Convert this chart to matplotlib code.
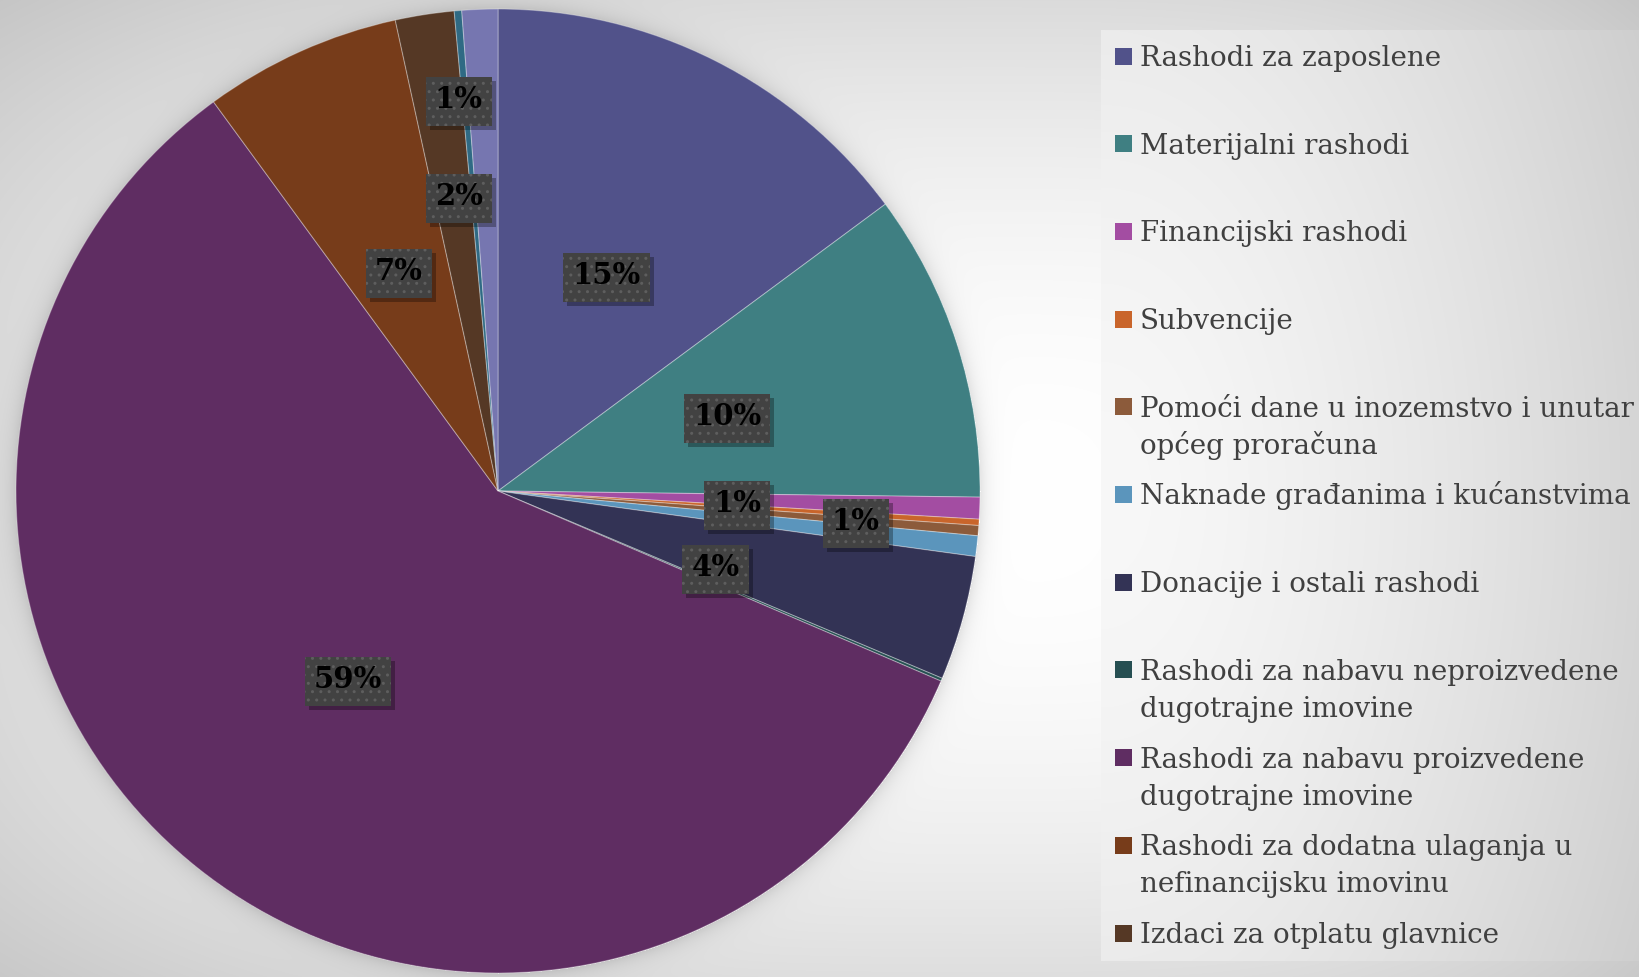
import numpy as np
import matplotlib
matplotlib.use("Agg")
import matplotlib.pyplot as plt
from matplotlib.patches import Rectangle

# ---------------- data ----------------
categories = [
    "Rashodi za zaposlene",
    "Materijalni rashodi",
    "Financijski rashodi",
    "Subvencije",
    "Pomoći dane u inozemstvo i unutar općeg proračuna",
    "Naknade građanima i kućanstvima",
    "Donacije i ostali rashodi",
    "Rashodi za nabavu neproizvedene dugotrajne imovine",
    "Rashodi za nabavu proizvedene dugotrajne imovine",
    "Rashodi za dodatna ulaganja u nefinancijsku imovinu",
    "Izdaci za otplatu glavnice",
    "Ostalo (12)",
    "Ostalo (13)",
]
shares = [14.86, 10.35, 0.73, 0.21, 0.34, 0.69, 4.18, 0.10, 58.52, 6.63, 1.97, 0.25, 1.20]

legend_lines = [
    ["Rashodi za zaposlene"],
    ["Materijalni rashodi"],
    ["Financijski rashodi"],
    ["Subvencije"],
    ["Pomoći dane u inozemstvo i unutar", "općeg proračuna"],
    ["Naknade građanima i kućanstvima"],
    ["Donacije i ostali rashodi"],
    ["Rashodi za nabavu neproizvedene", "dugotrajne imovine"],
    ["Rashodi za nabavu proizvedene", "dugotrajne imovine"],
    ["Rashodi za dodatna ulaganja u", "nefinancijsku imovinu"],
    ["Izdaci za otplatu glavnice"],
]

colors = ["#51528A", "#3F7F82", "#A34DA2", "#C9652B", "#8C5B3B", "#5B95BC",
          "#333355", "#264F52", "#5F2D62", "#773C1A", "#553825", "#2F6A84", "#7676B0"]

# label placement overrides: index -> (clockwise angle from 12 o'clock, radius fraction)
label_override = {2: (93.1, 0.497), 5: (94.8, 0.745), 6: (109.3, 0.478),
                  10: (352.4, 0.617), 12: (354.3, 0.817)}

# ---------------- figure ----------------
W, H = 1639, 977
fig = plt.figure(figsize=(W / 100, H / 100), dpi=100)
ax = fig.add_axes([0, 0, 1, 1])

CX, CY_IMG, R = 498, 491, 482
CY = H - CY_IMG

# background gradient image
yy, xx = np.mgrid[0:H, 0:W].astype(float)
dx = xx - 1000
u = np.where(dx < 0, -dx / 1000, dx / 640)
v = np.abs(yy - 500) / 500
t = (u ** 3 + v ** 3) ** (1 / 3)
g = 255 - 36 * t ** 2
dist = np.sqrt((xx - CX) ** 2 + (yy - CY_IMG) ** 2) - R
g -= np.where(dist > 0, 26 * np.exp(-np.clip(dist, 0, None) / 9), 0)
box = (xx >= 1101) & (yy >= 30) & (yy <= 960)
t2 = np.sqrt(((xx - 1101) / 540) ** 2 + ((yy - 495) / 900) ** 2)
g = np.where(box, 248 - 35 * t2 ** 1.5, g)
g = np.clip(g, 0, 255) / 255
img = np.dstack([g, g, g])
ax.imshow(img, extent=(0, W, 0, H), origin="upper", zorder=0, interpolation="bilinear")

wedges, _ = ax.pie(shares, colors=colors, startangle=90, counterclock=False,
                   center=(CX, CY), radius=R,
                   wedgeprops=dict(linewidth=0.8, edgecolor=(1, 1, 1, 0.3)))
for w in wedges:
    w.set_zorder(2)

ax.set_xlim(0, W)
ax.set_ylim(0, H)
ax.set_aspect("equal")
ax.axis("off")

# data labels
total = sum(shares)
label_texts = []
for i, w in enumerate(wedges):
    pct = round(shares[i] / total * 100)
    if pct < 1:
        continue
    if i in label_override:
        cw, rf = label_override[i]
        th = np.deg2rad(90 - cw)
    else:
        th = np.deg2rad((w.theta1 + w.theta2) / 2)
        rf = 0.5
    x = CX + rf * R * np.cos(th)
    y = CY + rf * R * np.sin(th)
    txt = ax.text(x, y, f"{pct}%", ha="center", va="center", fontsize=21,
                  fontweight="bold", family="DejaVu Serif", color="black", zorder=6)
    label_texts.append(txt)

fig.canvas.draw()
renderer = fig.canvas.get_renderer()
inv = ax.transData.inverted()
HP, VP = 9, 12  # padding in pixels
for txt in label_texts:
    bb = txt.get_window_extent(renderer)
    (x0, y0) = inv.transform((bb.x0 - HP, bb.y0 - VP))
    (x1, y1) = inv.transform((bb.x1 + HP, bb.y1 + VP - 4))
    ax.add_patch(Rectangle((x0 + 4, y0 - 4), x1 - x0, y1 - y0, fc=(0, 0, 0, 0.3),
                           ec="none", zorder=4))
    ax.add_patch(Rectangle((x0, y0), x1 - x0, y1 - y0, fc="#424242", ec="#5e5e5e",
                           lw=0, hatch="..", zorder=5))

# legend
for i, lines in enumerate(legend_lines):
    yc = 56 + i * 87.7
    ax.add_patch(Rectangle((1115, H - yc - 8.5), 17, 17, fc=colors[i], ec="none", zorder=3))
    for j, line in enumerate(lines):
        ax.text(1140, H - (yc + 10 + j * 37), line, ha="left", va="baseline",
                fontsize=20, family="DejaVu Serif", color="#404040", zorder=3)

fig.savefig("out.png", dpi=100)
